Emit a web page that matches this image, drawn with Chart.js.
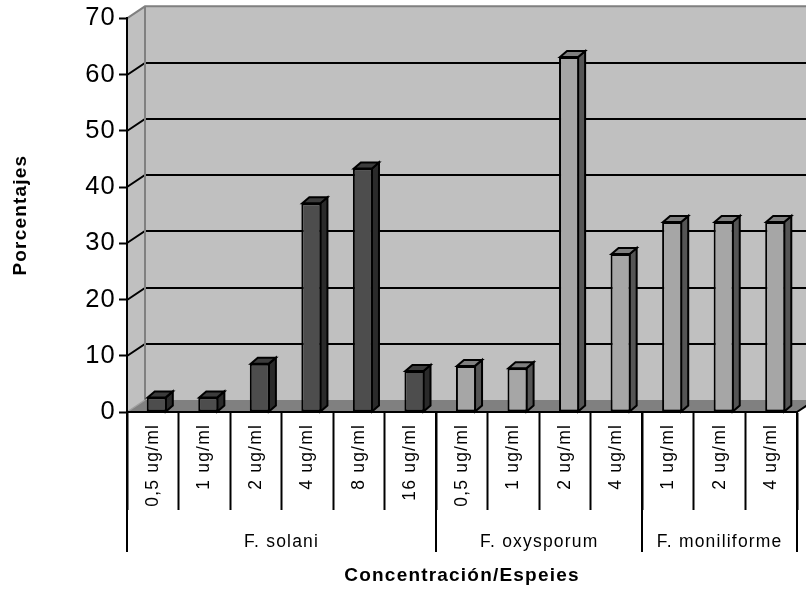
<!DOCTYPE html>
<html>
<head>
<meta charset="utf-8">
<script src="https://cdn.jsdelivr.net/npm/chart.js@4/dist/chart.umd.min.js"></script>
<style>
  html, body { margin: 0; padding: 0; background: #ffffff; }
  canvas { display: block; }
</style>
</head>
<body>
<canvas id="grafico" width="806" height="590"></canvas>
<script>
// Concentraciones ensayadas (una barra por concentración)
const concentraciones = ['0,5 ug/ml', '1 ug/ml', '2 ug/ml', '4 ug/ml', '8 ug/ml', '16 ug/ml',
                         '0,5 ug/ml', '1 ug/ml', '2 ug/ml', '4 ug/ml',
                         '1 ug/ml', '2 ug/ml', '4 ug/ml'];
// Especies y a qué especie pertenece cada barra
const especies = ['F. solani', 'F. oxysporum', 'F. moniliforme'];
const especieDeCadaBarra = [0, 0, 0, 0, 0, 0, 1, 1, 1, 1, 2, 2, 2];
// Porcentajes
const porcentajes = [2.6, 2.6, 8.6, 37.1, 43.3, 7.3, 8.2, 7.8, 63.1, 28.1, 33.8, 33.8, 33.8];
// Marcas del eje Y
const marcasY = [0, 10, 20, 30, 40, 50, 60, 70];

const FUENTE = '"Liberation Sans", Arial, sans-serif';
const ESPACIADO_TEXTO = '1.2px';

// Colores de cada especie: cara frontal, lateral y superior
const colores = [
  { frente: '#4d4d4d', lado: '#2a2a2a', tapa: '#3c3c3c' },
  { frente: '#a6a6a6', lado: '#555555', tapa: '#7f7f7f' },
  { frente: '#a6a6a6', lado: '#555555', tapa: '#7f7f7f' }
];

// Profundidad de las paredes y de las columnas
const PARED_DX = 18, PARED_DY = -12;
const BARRA_DX = 7, BARRA_DY = -6;
const BARRA_DESPLAZ = 4;

function poligono(ctx, pts) {
  ctx.beginPath();
  ctx.moveTo(pts[0][0], pts[0][1]);
  for (let i = 1; i < pts.length; i++) ctx.lineTo(pts[i][0], pts[i][1]);
  ctx.closePath();
  ctx.fill();
  ctx.stroke();
}

const efecto3D = {
  id: 'efecto3D',
  beforeDraw(chart) {
    const { ctx, chartArea: a, scales: { y } } = chart;
    ctx.letterSpacing = ESPACIADO_TEXTO;
    const L = a.left, R = a.right, T = a.top, B = a.bottom;
    ctx.save();
    // pared del fondo y pared izquierda
    ctx.fillStyle = '#c0c0c0';
    ctx.fillRect(L + PARED_DX, T + PARED_DY, R - L + 10, B - T);
    ctx.beginPath();
    ctx.moveTo(L, B); ctx.lineTo(L, T);
    ctx.lineTo(L + PARED_DX, T + PARED_DY); ctx.lineTo(L + PARED_DX, B + PARED_DY);
    ctx.closePath(); ctx.fill();
    // suelo
    ctx.fillStyle = '#808080';
    ctx.beginPath();
    ctx.moveTo(L, B); ctx.lineTo(R, B);
    ctx.lineTo(R + PARED_DX, B + PARED_DY); ctx.lineTo(L + PARED_DX, B + PARED_DY);
    ctx.closePath(); ctx.fill();
    // líneas de división en las paredes
    ctx.strokeStyle = '#000000';
    ctx.lineWidth = 2;
    y.ticks.forEach(t => {
      if (t.value <= y.min || t.value >= y.max) return;
      const py = Math.round(y.getPixelForValue(t.value));
      ctx.beginPath();
      ctx.moveTo(L, py);
      ctx.lineTo(L + PARED_DX, py + PARED_DY);
      ctx.lineTo(R + PARED_DX + 10, py + PARED_DY);
      ctx.stroke();
    });
    // aristas de las paredes
    ctx.strokeStyle = '#808080';
    ctx.beginPath();
    ctx.moveTo(L, T);
    ctx.lineTo(L + PARED_DX, T + PARED_DY);
    ctx.lineTo(R + PARED_DX + 10, T + PARED_DY);
    ctx.moveTo(L + PARED_DX, T + PARED_DY);
    ctx.lineTo(L + PARED_DX, B + PARED_DY);
    ctx.stroke();
    ctx.strokeStyle = '#a0a0a0';
    ctx.lineWidth = 1.5;
    ctx.beginPath();
    ctx.moveTo(L, B); ctx.lineTo(L + PARED_DX, B + PARED_DY);
    ctx.stroke();
    ctx.strokeStyle = '#000000';
    ctx.lineWidth = 2;
    ctx.beginPath();
    ctx.moveTo(R, B); ctx.lineTo(R + PARED_DX, B + PARED_DY);
    ctx.stroke();
    ctx.restore();
  },
  beforeDatasetsDraw(chart) {
    const ctx = chart.ctx;
    ctx.save();
    ctx.translate(BARRA_DESPLAZ, 0);
    const meta = chart.getDatasetMeta(0);
    ctx.save();
    ctx.lineWidth = 2;
    ctx.strokeStyle = '#000000';
    ctx.lineJoin = 'miter';
    meta.data.forEach((barra, i) => {
      const { x, y, base, width } = barra.getProps(['x', 'y', 'base', 'width'], true);
      const izq = x - width / 2 + 1, der = x + width / 2 - 1;
      const c = colores[especieDeCadaBarra[i]];
      ctx.fillStyle = c.lado;
      poligono(ctx, [[der, y], [der + BARRA_DX, y + BARRA_DY], [der + BARRA_DX, base + BARRA_DY], [der, base]]);
      ctx.fillStyle = c.tapa;
      poligono(ctx, [[izq, y], [der, y], [der + BARRA_DX, y + BARRA_DY], [izq + BARRA_DX, y + BARRA_DY]]);
    });
    ctx.restore();
  },
  afterDatasetsDraw(chart) {
    chart.ctx.restore();
  },
  afterDraw(chart) {
    const { ctx, scales: { x } } = chart;
    ctx.save();
    ctx.strokeStyle = '#000000';
    ctx.fillStyle = '#000000';
    ctx.lineWidth = 2;
    ctx.font = '17.5px ' + FUENTE;
    ctx.textAlign = 'center';
    ctx.textBaseline = 'alphabetic';
    const n = concentraciones.length;
    let inicio = 0;
    const limites = [x.getPixelForValue(-0.5)];
    for (let i = 1; i <= n; i++) {
      if (i === n || especieDeCadaBarra[i] !== especieDeCadaBarra[inicio]) {
        const x0 = x.getPixelForValue(inicio - 0.5);
        const x1 = x.getPixelForValue(i - 0.5);
        ctx.fillText(especies[especieDeCadaBarra[inicio]], (x0 + x1) / 2, 547);
        limites.push(x1);
        inicio = i;
      }
    }
    limites.forEach(px => {
      const xr = Math.round(px);
      ctx.beginPath();
      ctx.moveTo(xr, x.top);
      ctx.lineTo(xr, 552);
      ctx.stroke();
    });
    ctx.restore();
  }
};

new Chart(document.getElementById('grafico'), {
  type: 'bar',
  data: {
    labels: concentraciones,
    datasets: [{
      data: porcentajes,
      backgroundColor: especieDeCadaBarra.map(e => colores[e].frente),
      borderColor: '#000000',
      borderWidth: 2,
      borderSkipped: false,
      categoryPercentage: 1,
      barPercentage: 0.39
    }]
  },
  options: {
    responsive: false,
    animation: false,
    events: [],
    layout: { padding: { top: 18, right: 9, left: 0, bottom: 0 } },
    plugins: {
      legend: { display: false },
      tooltip: { enabled: false }
    },
    scales: {
      x: {
        type: 'category',
        offset: true,
        afterFit: s => { s.height = 178; },
        grid: {
          offset: true,
          drawOnChartArea: false,
          drawTicks: true,
          tickLength: 98,
          tickColor: '#000000',
          tickWidth: 2
        },
        border: { display: true, color: '#000000', width: 2 },
        ticks: {
          autoSkip: false,
          minRotation: 90,
          maxRotation: 90,
          padding: -86,
          color: '#000000',
          font: { family: FUENTE, size: 17.5 }
        },
        title: {
          display: true,
          text: 'Concentración/Espeies',
          color: '#000000',
          font: { family: FUENTE, size: 19, weight: 'bold' },
          padding: 3
        }
      },
      y: {
        min: 0,
        max: 70,
        afterFit: s => { s.width = 127; },
        afterBuildTicks: s => { s.ticks = marcasY.map(v => ({ value: v })); },
        grid: {
          drawOnChartArea: false,
          drawTicks: true,
          tickLength: 8,
          tickColor: '#000000',
          tickWidth: 2
        },
        border: { display: true, color: '#000000', width: 2 },
        ticks: {
          padding: 3,
          color: '#000000',
          font: { family: FUENTE, size: 25.5 }
        },
        title: {
          display: true,
          text: 'Porcentajes',
          color: '#000000',
          font: { family: FUENTE, size: 19, weight: 'bold' },
          padding: 9
        }
      }
    }
  },
  plugins: [efecto3D]
});
</script>
</body>
</html>
